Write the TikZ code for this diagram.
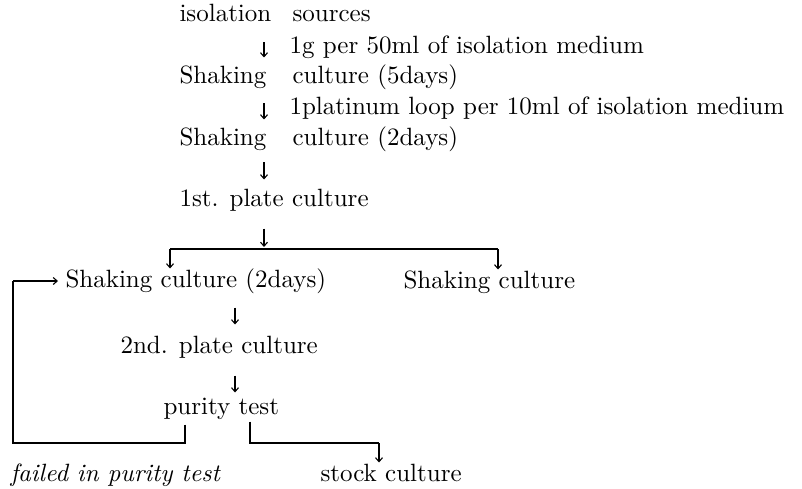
\documentclass[tikz,border=0pt]{standalone}
\usepackage{tikz}
\usetikzlibrary{arrows.meta}
\newcommand{\firstcol}[1]{\makebox[45.2pt][l]{#1}}

\begin{document}
\begin{tikzpicture}[
  x=1pt, y=-1pt,
  txt/.style={anchor=base west, inner sep=0pt, text height=7.2pt, text depth=2.4pt,
    font=\fontsize{10}{12}\selectfont, scale=2.5, transform shape},
  down/.style={-{Straight Barb[length=4pt,width=7pt]}, line width=1.1pt},
  rule/.style={line width=1.5pt}
]
\useasboundingbox (0,0) rectangle (802,489);
\coordinate (ax) at (264,0);
\coordinate (bx) at (235,0);

\node[txt] (src) at (179,22) {\firstcol{isolation}sources};
\node[txt] (dose1) at (289,54) {1g per 50ml of isolation medium};
\node[txt] (shake5) at (179,84) {\firstcol{Shaking}culture (5days)};
\node[txt] (dose2) at (289,115) {1platinum loop per 10ml of isolation medium};
\node[txt] (shake2) at (179,146) {\firstcol{Shaking}culture (2days)};
\node[txt] (plate1) at (179,206) {1st. plate culture};
\node[txt] (shakeL) at (65,287) {Shaking culture (2days)};
\node[txt] (shakeR) at (403,288) {Shaking culture};
\node[txt] (plate2) at (120,353) {2nd. plate culture};
\node[txt] (purity) at (163,414) {purity test};
\node[txt] (failed) at (10,481) {\textit{failed in purity test}};
\node[txt] (stock) at (320,481) {stock culture};

\draw[down, shorten <=14pt, shorten >=8pt] (src.south -| ax) -- (shake5.north -| ax);
\draw[down, shorten <=13pt, shorten >=8pt] (shake5.south -| ax) -- (shake2.north -| ax);
\draw[down, shorten <=10pt, shorten >=8pt] (shake2.south -| ax) -- (plate1.north -| ax);

\coordinate (barL) at (170,249);
\coordinate (barR) at (498,249);
\draw[down, shorten <=16pt, shorten >=2pt] (plate1.south -| ax) -- (barL -| ax);
\draw[rule] (barL) -- (barR);
\draw[down] (barL) -- (barL |- shakeL.north);
\draw[down] (barR) -- (barR |- shakeR.north);

\draw[down, shorten <=14pt, shorten >=10pt] (shakeL.south -| bx) -- (plate2.north -| bx);
\draw[down, shorten <=16pt, shorten >=3pt] (plate2.south -| bx) -- (purity.north -| bx);

\coordinate (loop) at (13,443);
\draw[rule] ([xshift=22pt,yshift=-4pt]purity.south west) |- (loop) -- (loop |- shakeL.west);
\draw[down] (loop |- shakeL.west) -- ([xshift=-7pt]shakeL.west);

\coordinate (keep) at (379,443);
\draw[rule] ([xshift=87pt,yshift=-1pt]purity.south west) |- (keep);
\draw[down] (keep) -- (keep |- stock.north);
\end{tikzpicture}
\end{document}
